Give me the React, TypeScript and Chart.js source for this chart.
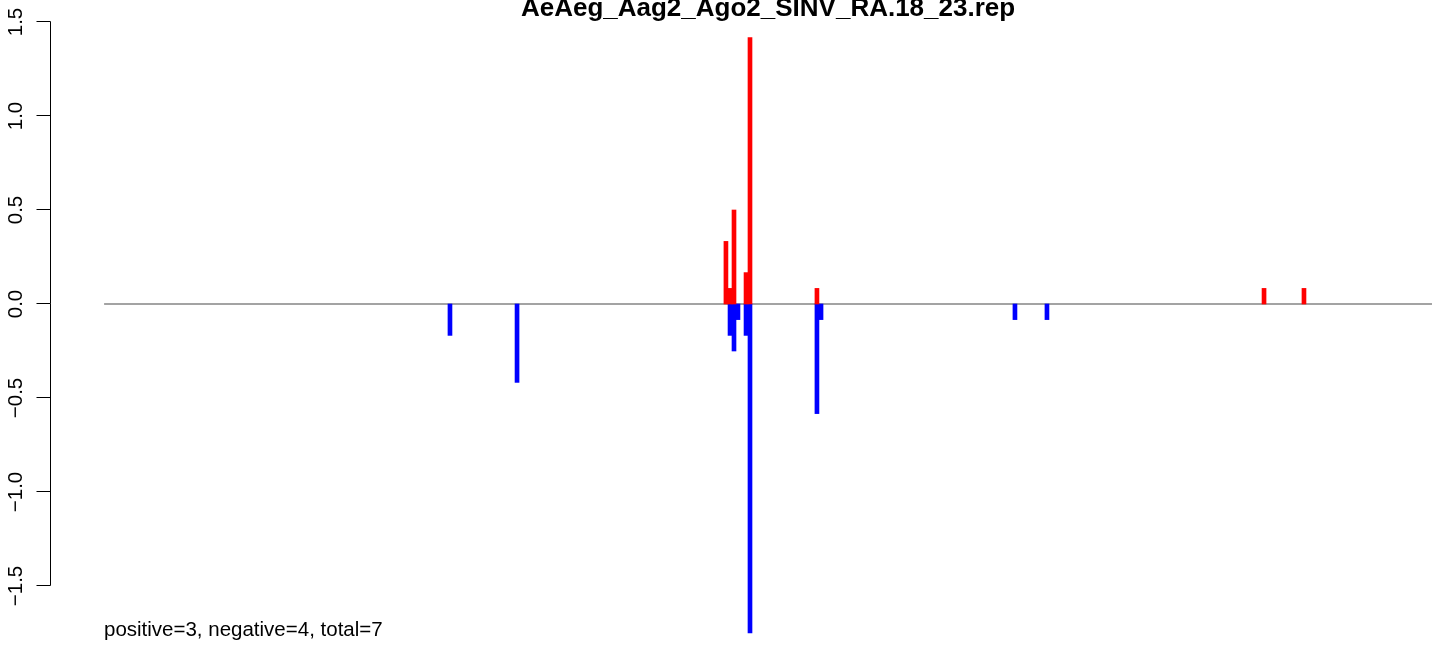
import React, { useEffect, useRef } from "react";
import { Chart, registerables } from "chart.js";

Chart.register(...registerables);

const TITLE = "AeAeg_Aag2_Ago2_SINV_RA.18_23.rep";
const SUMMARY = "positive=3, negative=4, total=7";

// genome coordinates (nt)
const GENOME_START = 1;
const GENOME_END = 11703;
const X_MIN = -467;
const X_MAX = 11809;

const Y_TICKS = [-1.5, -1.0, -0.5, 0, 0.5, 1.0, 1.5];

const posX = [5481, 5517, 5552, 5658, 5693, 6283, 10223, 10575];
const posY = [0.333, 0.083, 0.5, 0.167, 1.417, 0.083, 0.083, 0.083];

const negX = [3049, 3640, 5517, 5552, 5587, 5658, 5693, 6283, 6319, 8028, 8310];
const negY = [-0.167, -0.417, -0.167, -0.25, -0.083, -0.167, -1.75, -0.583, -0.083, -0.083, -0.083];

const FONT = "'Liberation Sans', Arial, Helvetica, sans-serif";

const rAxisPlugin = {
  id: "rAxis",
  afterDraw(chart: any) {
    const ctx = chart.ctx;
    const y = chart.scales.y;
    const x = chart.scales.x;
    const left = chart.chartArea.left;
    ctx.save();
    // axis line
    ctx.strokeStyle = "#000";
    ctx.lineWidth = 1;
    const ax = Math.round(left) - 0.5;
    const yTop = y.getPixelForValue(Y_TICKS[Y_TICKS.length - 1]);
    const yBot = y.getPixelForValue(Y_TICKS[0]);
    ctx.beginPath();
    ctx.moveTo(ax, Math.round(yTop) - 0.5);
    ctx.lineTo(ax, Math.round(yBot) - 0.5);
    ctx.stroke();
    // ticks and labels
    ctx.fillStyle = "#000";
    ctx.font = `20.5px ${FONT}`;
    ctx.textAlign = "center";
    ctx.textBaseline = "alphabetic";
    for (const v of Y_TICKS) {
      const py = Math.round(y.getPixelForValue(v)) - 0.5;
      ctx.beginPath();
      ctx.moveTo(ax - 14, py);
      ctx.lineTo(ax, py);
      ctx.stroke();
      const label = v.toFixed(1).replace("-", "\u2212");
      ctx.save();
      ctx.translate(22, y.getPixelForValue(v));
      ctx.rotate(-Math.PI / 2);
      ctx.fillText(label, 0, 0);
      ctx.restore();
    }
    // title
    const cx = x.getPixelForValue((GENOME_START + GENOME_END) / 2);
    ctx.font = `bold 26px ${FONT}`;
    ctx.textAlign = "center";
    ctx.fillText(TITLE, cx, 16);
    // summary
    ctx.font = `20.5px ${FONT}`;
    ctx.textAlign = "left";
    ctx.fillText(SUMMARY, x.getPixelForValue(0), 636);
    ctx.restore();
  },
};

export default function App() {
  const ref = useRef<HTMLCanvasElement>(null);
  useEffect(() => {
    const canvas = ref.current!;
    const chart = new Chart(canvas, {
      type: "bar",
      data: {
        datasets: [
          {
            type: "line",
            data: [
              { x: GENOME_START, y: 0 },
              { x: GENOME_END, y: 0 },
            ],
            borderColor: "#a3a3a3",
            borderWidth: 2,
            pointRadius: 0,
            order: 10,
            clip: false,
          } as any,
          {
            data: posX.map((v, i) => ({ x: v, y: posY[i] })),
            backgroundColor: "#ff0000",
            barThickness: 4,
            grouped: false,
            borderWidth: 0,
            order: 1,
            clip: false,
          } as any,
          {
            data: negX.map((v, i) => ({ x: v, y: negY[i] })),
            backgroundColor: "#0000ff",
            barThickness: 4,
            grouped: false,
            borderWidth: 0,
            order: 1,
            clip: false,
          } as any,
        ],
      },
      options: {
        animation: false,
        responsive: false,
        devicePixelRatio: 1,
        layout: { padding: { left: 51, right: 0, top: 22, bottom: 59 } },
        plugins: { legend: { display: false }, tooltip: { enabled: false }, title: { display: false } },
        scales: {
          x: { type: "linear", min: X_MIN, max: X_MAX, display: false, offset: false },
          y: { type: "linear", min: -1.5, max: 1.5, display: false, ticks: { stepSize: 0.5 } },
        },
      },
      plugins: [rAxisPlugin],
    } as any);
    return () => chart.destroy();
  }, []);
  return (
    <div style={{ position: "fixed", left: 0, top: 0, width: 1444, height: 645, background: "#fff" }}>
      <canvas ref={ref} width={1444} height={645} style={{ display: "block" }} />
    </div>
  );
}
